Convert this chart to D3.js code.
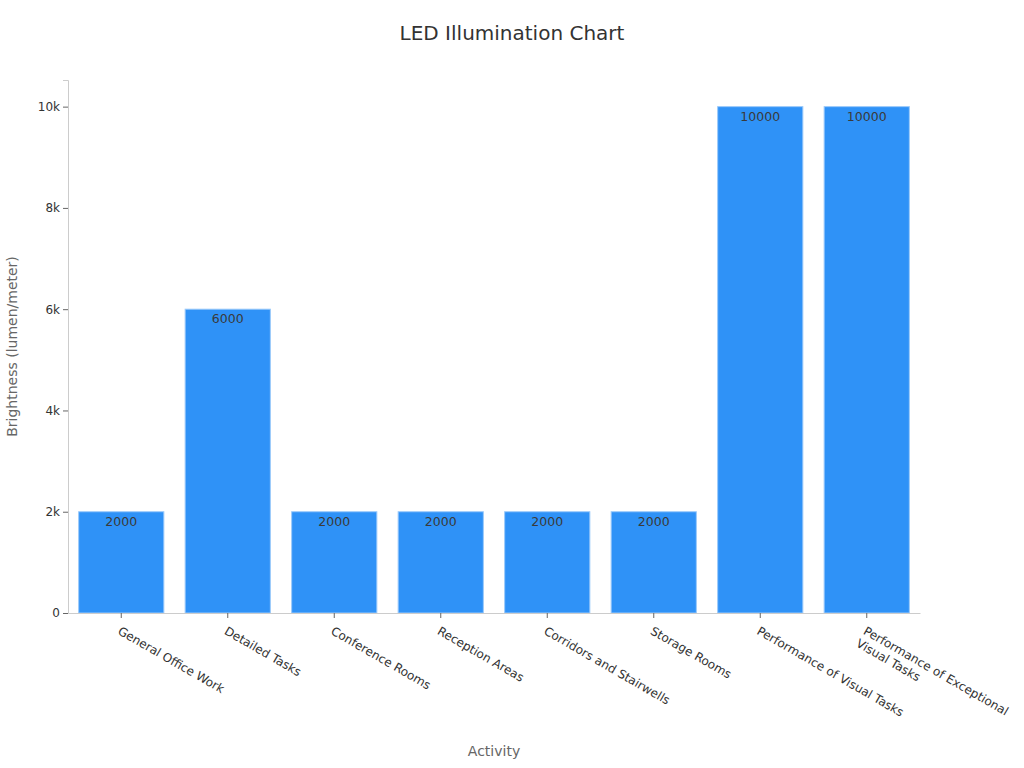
<!DOCTYPE html>
<html>
<head>
<meta charset="utf-8">
<script src="https://cdn.jsdelivr.net/npm/d3@7"></script>
<style>
  body { margin: 0; background: #fff; }
  text { font-family: "DejaVu Sans", sans-serif; }
</style>
</head>
<body>
<svg id="chart" width="1024" height="768"></svg>
<script>
// chart values
var activities = [
  "General Office Work",
  "Detailed Tasks",
  "Conference Rooms",
  "Reception Areas",
  "Corridors and Stairwells",
  "Storage Rooms",
  "Performance of Visual Tasks",
  "Performance of Exceptional Visual Tasks"
];
var brightness = [2000, 6000, 2000, 2000, 2000, 2000, 10000, 10000];
var yTicks = [0, 2000, 4000, 6000, 8000, 10000];

var margin = {top: 80, right: 104, bottom: 155, left: 68};
var width = 1024 - margin.left - margin.right,
    height = 768 - margin.top - margin.bottom;

var svg = d3.select("#chart");

svg.append("text")
  .attr("x", 512)
  .attr("y", 40)
  .attr("text-anchor", "middle")
  .attr("font-size", 20)
  .attr("fill", "#333")
  .text("LED Illumination Chart");

var g = svg.append("g")
  .attr("transform", "translate(" + margin.left + "," + margin.top + ")");

var x = d3.scaleBand()
  .domain(activities)
  .range([0, width])
  .paddingInner(0.2)
  .paddingOuter(0.1);

var y = d3.scaleLinear()
  .domain([0, 10526])
  .range([height, 0]);

// bars
g.selectAll(".bar")
  .data(activities)
  .enter().append("rect")
  .attr("class", "bar")
  .attr("x", function(d) { return x(d); })
  .attr("y", function(d, i) { return y(brightness[i]); })
  .attr("width", x.bandwidth())
  .attr("height", function(d, i) { return height - y(brightness[i]); })
  .attr("fill", "#2f92f7")
  .attr("stroke", "#9ccafa")
  .attr("stroke-width", 1);

g.selectAll(".val")
  .data(activities)
  .enter().append("text")
  .attr("class", "val")
  .attr("x", function(d) { return x(d) + x.bandwidth() / 2; })
  .attr("y", function(d, i) { return y(brightness[i]) + 14; })
  .attr("text-anchor", "middle")
  .attr("font-size", 12.5)
  .attr("fill", "#3a3a3a")
  .text(function(d, i) { return brightness[i]; });

// y axis
var yAxis = g.append("g")
  .call(d3.axisLeft(y).tickValues(yTicks).tickFormat(d3.format("~s")).tickSize(5).tickPadding(3));
yAxis.select(".domain").attr("stroke", "#ccc");
yAxis.selectAll(".tick line").attr("stroke", "#666");
yAxis.selectAll(".tick text").attr("font-size", 12).attr("fill", "#333")
  .style("font-family", "DejaVu Sans, sans-serif");

// x axis
var xAxis = g.append("g")
  .attr("transform", "translate(0," + height + ")")
  .call(d3.axisBottom(x).tickSize(5).tickSizeOuter(0));
xAxis.select(".domain").attr("stroke", "#ccc");
xAxis.selectAll(".tick line").attr("stroke", "#666");
xAxis.selectAll(".tick text").remove();

xAxis.selectAll(".tick").each(function(d) {
  var lines = d.length > 30 ? ["Performance of Exceptional", "Visual Tasks"] : [d];
  var t = d3.select(this).append("text")
    .attr("transform", "translate(0,13) rotate(30)")
    .attr("text-anchor", "start")
    .attr("font-size", 12)
    .attr("fill", "#333");
  lines.forEach(function(l, i) {
    t.append("tspan")
      .attr("x", 0)
      .attr("dy", i === 0 ? "0.71em" : "1.2em")
      .text(l);
  });
});

// axis titles
svg.append("text")
  .attr("x", margin.left + width / 2)
  .attr("y", 756)
  .attr("text-anchor", "middle")
  .attr("font-size", 14)
  .attr("fill", "#666")
  .text("Activity");

svg.append("text")
  .attr("transform", "translate(17," + (margin.top + height / 2) + ") rotate(-90)")
  .attr("text-anchor", "middle")
  .attr("font-size", 14)
  .attr("fill", "#666")
  .text("Brightness (lumen/meter)");
</script>
</body>
</html>
